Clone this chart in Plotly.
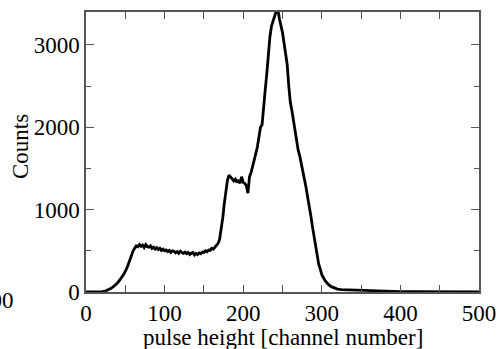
import plotly.graph_objects as go

channel = [0, 4, 8, 12, 16, 20, 24, 28, 32, 36, 40, 44, 48, 52, 56, 58, 60, 62, 64, 66,
           68, 70, 72, 74, 76, 78, 80, 82, 84, 86, 88, 90, 92, 94, 96, 98, 100, 102,
           104, 106, 108, 110, 112, 114, 116, 118, 120, 122, 124, 126, 128, 130, 132,
           134, 136, 138, 140, 142, 144, 146, 148, 150, 152, 154, 156, 158, 160, 162,
           164, 166, 168, 170, 172, 174, 176, 178, 180, 182, 184, 186, 188, 190, 192,
           194, 196, 198, 200, 202, 204, 206, 208, 210, 212, 214, 216, 218, 220, 222,
           224, 226, 228, 230, 232, 234, 236, 238, 240, 242, 243, 244, 246, 248, 250,
           252, 254, 256, 258, 260, 262, 264, 266, 268, 270, 272, 274, 276, 278, 280,
           282, 284, 286, 288, 290, 292, 294, 296, 298, 300, 304, 308, 312, 316, 320,
           325, 330, 340, 350, 360, 370, 380, 390, 400, 420, 440, 460, 480, 500]
counts = [0, 0, 0, 0, 0, 2, 10, 25, 45, 75, 110, 160, 215, 290, 400, 450, 500, 530, 560, 550,
          575, 555, 570, 540, 575, 550, 545, 560, 530, 545, 520, 540, 515, 530, 505, 520, 500, 510,
          490, 505, 480, 500, 495, 475, 490, 470, 495, 480, 470, 485, 465, 480, 455, 470,
          480, 450, 470, 455, 475, 465, 485, 480, 500, 490, 510, 505, 530, 520, 545,
          560, 590, 640, 760, 900, 1080, 1250, 1360, 1420, 1400, 1380, 1350, 1370, 1330,
          1360, 1320, 1400, 1330, 1320, 1290, 1200, 1400, 1450, 1540, 1600, 1680, 1760, 1900, 2000,
          2030, 2300, 2450, 2650, 2900, 3100, 3230, 3300, 3350, 3410, 3380, 3440, 3320, 3250, 3150,
          3020, 2900, 2760, 2500, 2300, 2200, 2080, 1960, 1800, 1720, 1650, 1560, 1440, 1360, 1270,
          1150, 1050, 930, 800, 680, 560, 450, 340, 280, 210, 140, 95, 65, 45, 35,
          30, 28, 25, 22, 20, 18, 12, 8, 5, 3, 2, 1, 0, 0]

x_ticks = [0, 100, 200, 300, 400, 500]
y_ticks = [0, 1000, 2000, 3000]

FONT = "Liberation Serif"
FS = 23
AXC = "#555555"

# plot area geometry in pixels
L, R, T, B = 86, 20, 12, 57
W, H = 499, 349
PW, PH = W - L - R, H - T - B

fig = go.Figure()
fig.add_trace(go.Scatter(x=channel, y=counts, mode="lines",
                         line=dict(color="black", width=2.8), showlegend=False))

fig.update_layout(
    width=W, height=H,
    margin=dict(l=L, r=R, t=T, b=B),
    paper_bgcolor="white", plot_bgcolor="white",
    font=dict(family=FONT, size=FS, color="black"),
    xaxis=dict(range=[0, 500], tickvals=x_ticks, ticktext=[str(v) for v in x_ticks],
               automargin=False,
               showgrid=False, zeroline=False, showline=True, linecolor=AXC, linewidth=1.5,
               mirror="ticks", ticks="inside", ticklen=7, tickcolor=AXC, tickwidth=1.3,
               minor=dict(dtick=50, tick0=0, ticks="inside", ticklen=7, tickcolor=AXC, tickwidth=1.3),
               tickfont=dict(family=FONT, size=FS), ticklabelstandoff=0),
    yaxis=dict(range=[0, 3400], tickvals=y_ticks, ticktext=[str(v) for v in y_ticks],
               automargin=False,
               showgrid=False, zeroline=False, showline=True, linecolor=AXC, linewidth=1.5,
               mirror="ticks", ticks="inside", ticklen=8, tickcolor=AXC, tickwidth=1.3,
               minor=dict(dtick=500, tick0=0, ticks="inside", ticklen=5, tickcolor=AXC, tickwidth=1.3),
               tickfont=dict(family=FONT, size=FS)),
)

# Axis titles
fig.add_annotation(text="pulse height [channel number]", xref="paper", yref="paper",
                   x=0.5, y=(PH + T - 337) / PH, xanchor="center", yanchor="middle",
                   borderpad=0, showarrow=False, font=dict(family=FONT, size=FS, color="black"))
fig.add_annotation(text="Counts", xref="paper", yref="paper",
                   x=(20 - L) / PW, y=(PH + T - 147) / PH, xanchor="center", yanchor="middle",
                   textangle=-90, showarrow=False, font=dict(family=FONT, size=FS, color="black"))

# Fragments of neighbouring panels visible at the edges
fig.add_annotation(text="500", xref="paper", yref="paper", x=(16 - L) / PW,
                   y=(PH + T - 300) / PH, xanchor="right", yanchor="middle", showarrow=False,
                   font=dict(family=FONT, size=FS, color="black"))
fig.add_annotation(text="Counts", xref="paper", yref="paper", x=(514 - L) / PW,
                   y=(PH + T - 147) / PH, xanchor="center", yanchor="middle", textangle=-90,
                   showarrow=False, font=dict(family=FONT, size=FS, color="black"))

fig.write_html("out.html")
